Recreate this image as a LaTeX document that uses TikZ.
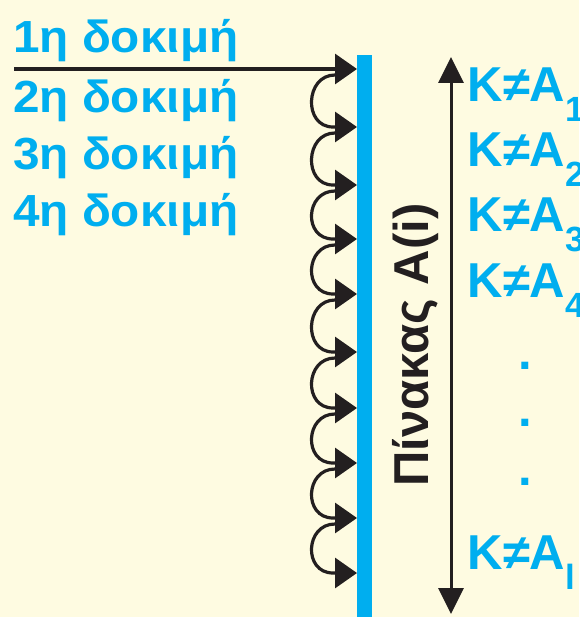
\documentclass[tikz,border=0pt]{standalone}
\usepackage{fontspec}
\setmainfont{Liberation Sans}
\usetikzlibrary{arrows.meta,calc}
\definecolor{bgcream}{HTML}{FEFBE1}
\definecolor{cyanb}{HTML}{00AEEF}
\definecolor{ink}{HTML}{231F20}
\newcommand\kneqa[1]{K≠A\raisebox{-20pt}{\fontsize{35}{35}\selectfont #1}}
\tikzset{
  trial/.style={anchor=base west, inner sep=0pt, xscale=1.06, text=cyanb, font=\bfseries\fontsize{45}{45}\selectfont},
  klab/.style={anchor=base west, inner sep=0pt, text=cyanb, font=\bfseries\fontsize{49}{49}\selectfont},
  conn/.style={draw=ink, line width=3.2pt, -{Triangle[length=22pt,width=30pt]}},
  dbl/.style={draw=ink, line width=3pt, {Triangle[length=26pt,width=25pt]}-{Triangle[length=26pt,width=25pt]}},
}
\begin{document}
\begin{tikzpicture}[x=1pt,y=-1pt]
\fill[bgcream] (0,0) rectangle (579,617);
\useasboundingbox (0,0) rectangle (579,617);
% left texts
\node[trial] (t1) at (13,53) {1η δοκιμή};
\node[trial] (t2) at (13,113) {2η δοκιμή};
\node[trial] (t3) at (13,170) {3η δοκιμή};
\node[trial] (t4) at (13,227) {4η δοκιμή};
% blue bar
\node[fill=cyanb, minimum width=15pt, minimum height=562pt, inner sep=0pt, anchor=north west] (bar) at (357,55) {};
% arrow tips on bar
\foreach \i/\y in {1/69,2/127,3/185,4/239,5/294,6/352,7/408,8/463,9/518,10/573}
  \coordinate (p\i) at (357,\y);
\coordinate (s) at (14,69);
\draw[conn] (s) -- (p1);
\foreach \a/\b in {1/2,2/3,3/4,4/5,5/6,6/7,7/8,8/9,9/10}
  \draw[conn] ($(p\a)+(-22,6)$) .. controls +(-30,0) and +(-30,0) .. ($(p\b)+(-24,0)$) -- (p\b);
% vertical label
\node[rotate=90, anchor=base, inner sep=0pt, text=ink, font=\bfseries\fontsize{49}{49}\selectfont] (tbl) at (428,345) {Πίνακας A(i)};
% double arrow
\coordinate (vt) at (451,57);
\coordinate (vb) at (451,614);
\draw[dbl] (vt) -- (vb);
% right labels
\node[klab] (k1) at (467.5,102) {\kneqa{1}};
\node[klab] (k2) at (467.5,167) {\kneqa{2}};
\node[klab] (k3) at (467.5,232) {\kneqa{3}};
\node[klab] (k4) at (467.5,297) {\kneqa{4}};
\node[klab, anchor=center] (d1) at (525,366) {.};
\node[klab, anchor=center] (d2) at (525,423) {.};
\node[klab, anchor=center] (d3) at (525,482) {.};
\node[klab] (kl) at (467.5,569) {\kneqa{l}};
\end{tikzpicture}
\end{document}
